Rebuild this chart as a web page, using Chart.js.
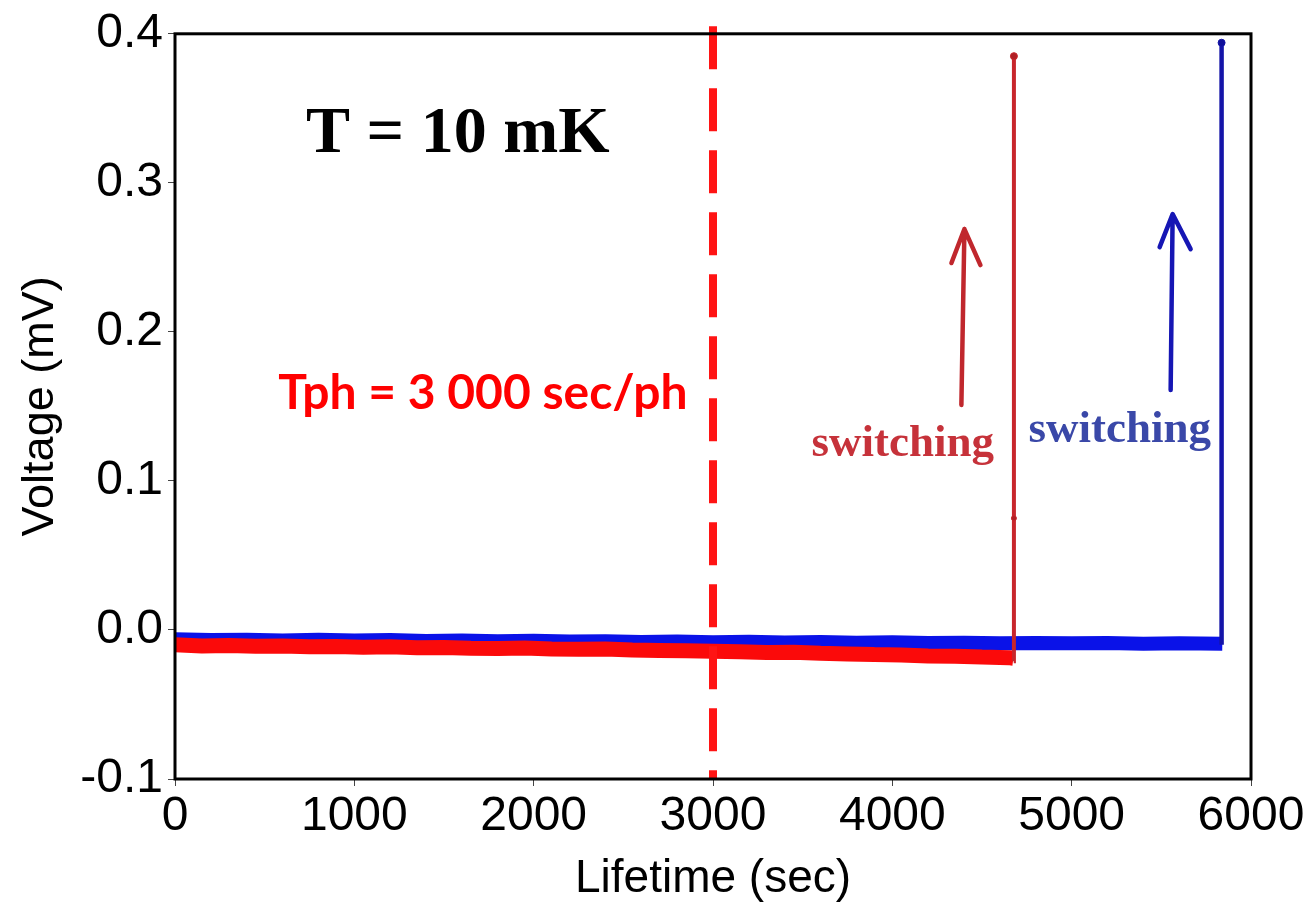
<!DOCTYPE html>
<html>
<head>
<meta charset="utf-8">
<script src="https://cdn.jsdelivr.net/npm/chart.js@4.4.1/dist/chart.umd.min.js"></script>
<style>
  html, body { margin: 0; padding: 0; background: #fff; }
  #wrap { width: 1308px; height: 912px; position: relative; }
</style>
</head>
<body>
<div id="wrap"><canvas id="lifetime-chart"></canvas></div>
<script>
// tick values
const xTicks = [0, 1000, 2000, 3000, 4000, 5000, 6000];
const yTicks = [-0.1, 0.0, 0.1, 0.2, 0.3, 0.4];

// red trace (baseline noise band)
const redTime = [0, 150, 300, 450, 600, 750, 900, 1050, 1200, 1350, 1500, 1650, 1800, 1950, 2100, 2250,
  2400, 2550, 2700, 2850, 3000, 3150, 3300, 3450, 3600, 3750, 3900, 4050, 4200, 4350, 4500, 4650, 4675];
const redVolt = [-0.0100, -0.0108, -0.0104, -0.0110, -0.0107, -0.0113, -0.0111, -0.0116, -0.0113, -0.0120,
  -0.0117, -0.0122, -0.0125, -0.0121, -0.0128, -0.0130, -0.0127, -0.0134, -0.0137, -0.0140, -0.0143,
  -0.0147, -0.0151, -0.0150, -0.0157, -0.0161, -0.0165, -0.0168, -0.0174, -0.0176, -0.0182, -0.0186, -0.0190];
// red switching jump
const redSpikeTime = [4677, 4678, 4678];
const redSpikeVolt = [-0.021, 0.075, 0.385];

// blue trace
const blueTime = [0, 200, 400, 600, 800, 1000, 1200, 1400, 1600, 1800, 2000, 2200, 2400, 2600, 2800, 3000,
  3200, 3400, 3600, 3800, 4000, 4200, 4400, 4600, 4800, 5000, 5200, 5400, 5600, 5840];
const blueVolt = [-0.0062, -0.0068, -0.0065, -0.0070, -0.0066, -0.0071, -0.0068, -0.0074, -0.0070, -0.0075,
  -0.0073, -0.0078, -0.0075, -0.0080, -0.0078, -0.0082, -0.0079, -0.0084, -0.0081, -0.0085, -0.0083,
  -0.0087, -0.0085, -0.0089, -0.0087, -0.0090, -0.0088, -0.0092, -0.0090, -0.0093];
const blueSpikeTime = [5836, 5836];
const blueSpikeVolt = [-0.010, 0.394];

// Tph marker line
const tphTime = [3000, 3000];
const tphVolt = [0.405, -0.1];

function toPoints(xs, ys) {
    return xs.map((x, i) => ({ x: x, y: ys[i] }));
}

function drawArrow(ctx, x0, y0, x1, y1, lx, ly, rx, ry, color) {
    ctx.strokeStyle = color;
    ctx.lineWidth = 4.5;
    ctx.lineCap = 'round';
    ctx.lineJoin = 'round';
    ctx.beginPath();
    ctx.moveTo(x0, y0);
    ctx.lineTo(x1, y1);
    ctx.moveTo(x1 + lx, y1 + ly);
    ctx.lineTo(x1, y1);
    ctx.lineTo(x1 + rx, y1 + ry);
    ctx.stroke();
}

// draw text at a given font size, squeezed horizontally to a given width
function fillSqueezed(ctx, text, cx, baseline, width) {
    const w = ctx.measureText(text).width;
    ctx.save();
    ctx.translate(cx, baseline);
    ctx.scale(Math.min(1, width / w), 1);
    ctx.fillText(text, 0, 0);
    ctx.restore();
}

const extras = {
    id: 'extras',
    afterDatasetsDraw(chart) {
        const { ctx, chartArea, scales } = chart;
        const x = scales.x, y = scales.y;
        ctx.save();

        // plot frame
        ctx.strokeStyle = '#000';
        ctx.lineWidth = 3;
        ctx.strokeRect(chartArea.left, chartArea.top, chartArea.width, chartArea.height);

        // arrows
        drawArrow(ctx, x.getPixelForValue(4385), y.getPixelForValue(0.151),
            x.getPixelForValue(4402), y.getPixelForValue(0.269), -13, 34, 16, 36, '#c0272d');
        drawArrow(ctx, x.getPixelForValue(5552), y.getPixelForValue(0.161),
            x.getPixelForValue(5563), y.getPixelForValue(0.279), -13, 33, 18, 35, '#1616b4');

        ctx.textAlign = 'center';
        ctx.textBaseline = 'alphabetic';

        ctx.fillStyle = '#000';
        ctx.font = 'bold 66px "Liberation Serif", "Times New Roman", serif';
        ctx.fillText('T = 10 mK', x.getPixelForValue(1577), y.getPixelForValue(0.3207));

        ctx.font = 'bold 48px Lato';
        ctx.fillStyle = '#ff0000';
        fillSqueezed(ctx, 'Tph = 3 000 sec/ph', x.getPixelForValue(1717), y.getPixelForValue(0.148), 410);

        ctx.font = 'bold 45px "Liberation Serif", "Times New Roman", serif';
        ctx.fillStyle = '#c6323a';
        ctx.fillText('switching', x.getPixelForValue(4058), y.getPixelForValue(0.117));
        ctx.fillStyle = '#3a48a8';
        ctx.fillText('switching', x.getPixelForValue(5268), y.getPixelForValue(0.126));

        ctx.restore();
    }
};

const axisFont = { family: '"Liberation Sans", Arial, sans-serif', size: 48 };

document.addEventListener('DOMContentLoaded', () => {
    const ctx = document.getElementById('lifetime-chart').getContext('2d');
    new Chart(ctx, {
        type: 'line',
        data: {
            datasets: [
                {
                    label: 'Tph',
                    data: toPoints(tphTime, tphVolt),
                    borderColor: '#ff1414',
                    borderWidth: 8,
                    borderDash: [43, 19],
                    borderCapStyle: 'butt',
                    pointRadius: 0,
                    clip: false
                },
                {
                    label: 'red switch',
                    data: toPoints(redSpikeTime, redSpikeVolt),
                    borderColor: '#c8262c',
                    backgroundColor: '#b02025',
                    borderWidth: 4,
                    pointRadius: [0, 2.5, 3.5],
                    pointBorderWidth: 1
                },
                {
                    label: 'red',
                    data: toPoints(redTime, redVolt),
                    borderColor: '#fb0a0a',
                    borderWidth: 15,
                    borderCapStyle: 'butt',
                    borderJoinStyle: 'bevel',
                    pointRadius: 0
                },
                {
                    label: 'blue switch',
                    data: toPoints(blueSpikeTime, blueSpikeVolt),
                    borderColor: '#1414a8',
                    backgroundColor: '#10109a',
                    borderWidth: 4.5,
                    pointRadius: [0, 3.5],
                    pointBorderWidth: 1
                },
                {
                    label: 'blue',
                    data: toPoints(blueTime, blueVolt),
                    borderColor: '#0a12e8',
                    borderWidth: 14,
                    borderCapStyle: 'butt',
                    borderJoinStyle: 'bevel',
                    pointRadius: 0
                }
            ]
        },
        options: {
            responsive: true,
            maintainAspectRatio: false,
            animation: false,
            layout: { padding: { top: 30, right: 57, left: 0, bottom: 0 } },
            plugins: { legend: { display: false }, tooltip: { enabled: false } },
            scales: {
                x: {
                    type: 'linear',
                    min: 0,
                    max: 6000,
                    afterBuildTicks: (scale) => { scale.ticks = xTicks.map(v => ({ value: v })); },
                    afterFit: (scale) => { scale.height = 133; },
                    grid: { drawOnChartArea: false, drawTicks: true, tickLength: 7, color: '#444', lineWidth: 1 },
                    border: { display: false },
                    ticks: { color: '#000', font: axisFont, padding: 2, maxRotation: 0, callback: (v) => String(v) },
                    title: {
                        display: true,
                        text: 'Lifetime (sec)',
                        color: '#000',
                        font: { family: axisFont.family, size: 46 },
                        padding: { top: 0, bottom: 5 }
                    }
                },
                y: {
                    type: 'linear',
                    min: -0.1,
                    max: 0.4,
                    afterBuildTicks: (scale) => { scale.ticks = yTicks.map(v => ({ value: v })); },
                    afterFit: (scale) => { scale.width = 175; },
                    grid: { drawOnChartArea: false, drawTicks: true, tickLength: 7, color: '#444', lineWidth: 1 },
                    border: { display: false },
                    ticks: {
                        color: '#000',
                        font: axisFont,
                        padding: 5,
                        callback: (v) => v.toFixed(1)
                    },
                    title: {
                        display: true,
                        text: 'Voltage (mV)',
                        color: '#000',
                        font: { family: axisFont.family, size: 45 },
                        padding: { top: 14, bottom: 0 }
                    }
                }
            }
        },
        plugins: [extras]
    });
});
</script>
</body>
</html>
